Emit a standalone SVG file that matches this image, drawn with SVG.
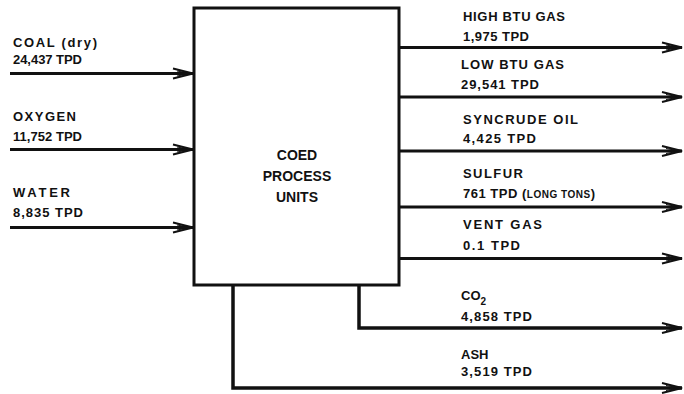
<svg xmlns="http://www.w3.org/2000/svg" width="684" height="394" viewBox="0 0 684 394">
<style>
  text { font-family: "Liberation Sans", Arial, sans-serif; font-weight: bold; fill: #111; }
  .lbl { font-size: 13px; }
  .ctr { font-size: 14px; text-anchor: middle; }
  .flow { fill: none; stroke: #111; stroke-width: 3; }
  .stub { fill: none; stroke: #111; stroke-width: 3.5; }
  .box { fill: #fff; stroke: #111; stroke-width: 3; }
</style>
<defs>
  <marker id="ah" markerUnits="userSpaceOnUse" markerWidth="26" markerHeight="14" refX="22" refY="7" orient="auto" viewBox="0 0 26 14">
    <path d="M2,2 L22,7 L2,12" fill="none" stroke="#111" stroke-width="2"/>
    <path d="M6,4.5 L20,7 L6,9.5" fill="none" stroke="#111" stroke-width="1"/>
  </marker>
</defs>
<rect width="684" height="394" fill="#fff"/>

<g id="connectors">
  <line class="flow" x1="10" y1="73.5" x2="193" y2="73.5" marker-end="url(#ah)"/>
  <line class="flow" x1="10" y1="149.5" x2="193" y2="149.5" marker-end="url(#ah)"/>
  <line class="flow" x1="10" y1="227.5" x2="193" y2="227.5" marker-end="url(#ah)"/>
  <line class="flow" x1="400" y1="47.5" x2="682" y2="47.5" marker-end="url(#ah)"/>
  <line class="flow" x1="400" y1="97" x2="682" y2="97" marker-end="url(#ah)"/>
  <line class="flow" x1="400" y1="151" x2="682" y2="151" marker-end="url(#ah)"/>
  <line class="flow" x1="400" y1="207" x2="682" y2="207" marker-end="url(#ah)"/>
  <line class="flow" x1="400" y1="258.5" x2="682" y2="258.5" marker-end="url(#ah)"/>
  <path class="stub" d="M359,285 V328 H682" marker-end="url(#ah)"/>
  <path class="stub" d="M233,285 V388 H682" marker-end="url(#ah)"/>
</g>

<g id="node-coed">
  <rect class="box" x="194" y="8" width="205" height="277"/>
  <text class="ctr" x="297" y="160">COED</text>
  <text class="ctr" x="297" y="181">PROCESS</text>
  <text class="ctr" x="297" y="202">UNITS</text>
</g>

<g id="in-coal">
  <text class="lbl" x="13" y="47" textLength="84">COAL (dry)</text>
  <text class="lbl" x="13" y="64" textLength="69">24,437 TPD</text>
</g>
<g id="in-oxygen">
  <text class="lbl" x="13" y="121" textLength="63">OXYGEN</text>
  <text class="lbl" x="13" y="141" textLength="69">11,752 TPD</text>
</g>
<g id="in-water">
  <text class="lbl" x="13" y="197" textLength="57">WATER</text>
  <text class="lbl" x="13" y="217" textLength="70">8,835 TPD</text>
</g>

<g id="out-high-btu">
  <text class="lbl" x="463" y="21" textLength="102">HIGH BTU GAS</text>
  <text class="lbl" x="463" y="41" textLength="66">1,975 TPD</text>
</g>
<g id="out-low-btu">
  <text class="lbl" x="461" y="69" textLength="103">LOW BTU GAS</text>
  <text class="lbl" x="461" y="89" textLength="78">29,541 TPD</text>
</g>
<g id="out-syncrude">
  <text class="lbl" x="463" y="124" textLength="115">SYNCRUDE OIL</text>
  <text class="lbl" x="463" y="143" textLength="73">4,425 TPD</text>
</g>
<g id="out-sulfur">
  <text class="lbl" x="463" y="178" textLength="60">SULFUR</text>
  <text class="lbl" x="463" y="198" textLength="132">761 TPD (<tspan font-size="10">LONG TONS</tspan>)</text>
</g>
<g id="out-vent">
  <text class="lbl" x="463" y="229" textLength="79">VENT GAS</text>
  <text class="lbl" x="463" y="250" textLength="57">0.1 TPD</text>
</g>
<g id="out-co2">
  <text class="lbl" x="461" y="300">CO<tspan font-size="10" dy="5">2</tspan></text>
  <text class="lbl" x="461" y="321" textLength="71">4,858 TPD</text>
</g>
<g id="out-ash">
  <text class="lbl" x="461" y="359">ASH</text>
  <text class="lbl" x="461" y="376" textLength="71">3,519 TPD</text>
</g>
</svg>
